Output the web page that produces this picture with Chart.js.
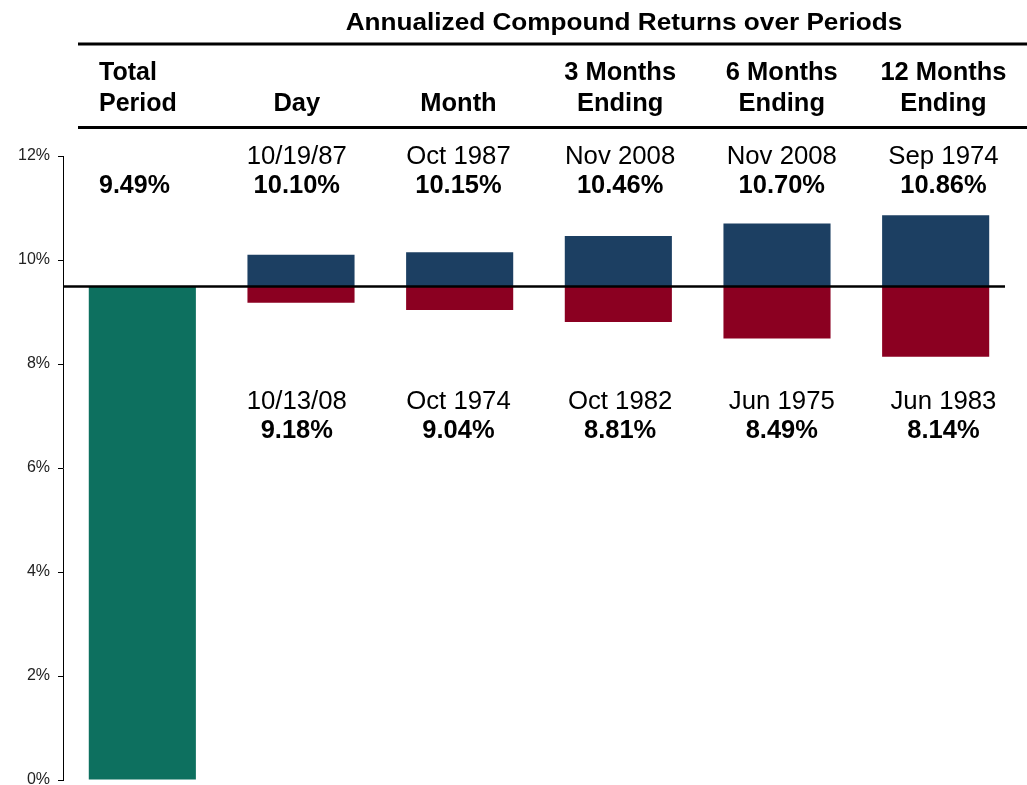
<!DOCTYPE html>
<html>
<head>
<meta charset="utf-8">
<script src="https://cdn.jsdelivr.net/npm/chart.js@4.4.0/dist/chart.umd.min.js"></script>
<style>
  html, body { margin: 0; padding: 0; background: #fff; overflow: hidden; }
  #wrap { position: relative; width: 1027px; height: 785px; }
</style>
</head>
<body>
<div id="wrap"><canvas id="returns-chart"></canvas></div>
<script>
// Annualized compound returns over periods
const chartTitle = 'Annualized Compound Returns over Periods';
const headers = [
    ['Total', 'Period'],
    ['', 'Day'],
    ['', 'Month'],
    ['3 Months', 'Ending'],
    ['6 Months', 'Ending'],
    ['12 Months', 'Ending']
];
const totalReturn = 9.49;
const highDates = ['10/19/87', 'Oct 1987', 'Nov 2008', 'Nov 2008', 'Sep 1974'];
const highReturns = [10.10, 10.15, 10.46, 10.70, 10.86];
const lowDates = ['10/13/08', 'Oct 1974', 'Oct 1982', 'Jun 1975', 'Jun 1983'];
const lowReturns = [9.18, 9.04, 8.81, 8.49, 8.14];
const yTicks = [0, 2, 4, 6, 8, 10, 12];

const FONT = '"Liberation Sans", Arial, sans-serif';
const colors = {
    total: '#0d705f',
    high: '#1c3f62',
    low: '#8b0021'
};

const labels = headers.map(h => h.join(' ').trim());
const totalData = [[0, totalReturn], null, null, null, null, null];
const highData = [null].concat(highReturns.map(v => [totalReturn, v]));
const lowData = [null].concat(lowReturns.map(v => [v, totalReturn]));

function drawText(ctx, text, x, y, sx) {
    ctx.save();
    ctx.translate(x, y);
    ctx.scale(sx || 1, 1);
    ctx.fillText(text, 0, 0);
    ctx.restore();
}

// header table, value labels and the total-period reference line
const annotations = {
    id: 'annotations',
    afterDatasetsDraw(chart) {
        const ctx = chart.ctx;
        const xs = chart.scales.x;
        const ys = chart.scales.y;
        const area = chart.chartArea;

        // reference line at total period return
        const yRef = ys.getPixelForValue(totalReturn);
        ctx.save();
        ctx.strokeStyle = '#000';
        ctx.lineWidth = 2.5;
        ctx.beginPath();
        ctx.moveTo(area.left, yRef);
        ctx.lineTo(area.right - 10, yRef);
        ctx.stroke();

        // header rules
        ctx.lineWidth = 3;
        ctx.beginPath();
        ctx.moveTo(78, 44);
        ctx.lineTo(1027, 44);
        ctx.moveTo(78, 127.5);
        ctx.lineTo(1027, 127.5);
        ctx.stroke();

        ctx.fillStyle = '#000';
        ctx.textBaseline = 'alphabetic';
        ctx.textAlign = 'center';
        ctx.font = 'bold 24px ' + FONT;
        drawText(ctx, chartTitle, 624, 29.5, 1.09);

        headers.forEach((h, i) => {
            ctx.font = 'bold 25px ' + FONT;
            if (i === 0) {
                ctx.textAlign = 'left';
                ctx.fillText(h[0], 99, 79.5);
                ctx.fillText(h[1], 99, 111);
                ctx.fillText(totalReturn.toFixed(2) + '%', 99, 193);
                return;
            }
            // text columns sit slightly right of the bar centres
            const cx = xs.getPixelForValue(i) + (i - 2.4) * 3;
            ctx.textAlign = 'center';
            if (h[0]) drawText(ctx, h[0], cx, 79.5, 1.02);
            drawText(ctx, h[1], cx, 111, 1.02);

            ctx.font = '25px ' + FONT;
            drawText(ctx, highDates[i - 1], cx, 163.5, 1.03);
            drawText(ctx, lowDates[i - 1], cx, 408.5, 1.03);
            ctx.font = 'bold 25px ' + FONT;
            drawText(ctx, highReturns[i - 1].toFixed(2) + '%', cx, 192.5, 1.02);
            drawText(ctx, lowReturns[i - 1].toFixed(2) + '%', cx, 437.5, 1.02);
        });
        ctx.restore();
    }
};

const barStyle = { grouped: false, borderWidth: 0, categoryPercentage: 0.675, barPercentage: 1 };

new Chart(document.getElementById('returns-chart'), {
    type: 'bar',
    data: {
        labels: labels,
        datasets: [
            Object.assign({ label: 'Total Period', data: totalData, backgroundColor: colors.total }, barStyle),
            Object.assign({ label: 'Highest', data: highData, backgroundColor: colors.high }, barStyle),
            Object.assign({ label: 'Lowest', data: lowData, backgroundColor: colors.low }, barStyle)
        ]
    },
    options: {
        responsive: true,
        maintainAspectRatio: false,
        animation: false,
        layout: { padding: { top: 156, right: 12, bottom: 5, left: 0 } },
        plugins: {
            legend: { display: false },
            tooltip: { enabled: false }
        },
        scales: {
            x: { display: false },
            y: {
                min: 0,
                max: 12,
                afterBuildTicks: scale => { scale.ticks = yTicks.map(v => ({ value: v })); },
                afterFit: scale => {
                    scale.width = 63;
                    scale.paddingTop = 0;
                    scale.paddingBottom = 0;
                },
                ticks: {
                    padding: 8,
                    color: '#222',
                    font: { family: FONT, size: 16 },
                    callback: v => v + '%'
                },
                grid: {
                    drawOnChartArea: false,
                    drawTicks: true,
                    tickLength: 5,
                    color: '#000'
                },
                border: { display: true, color: '#000', width: 1 }
            }
        }
    },
    plugins: [annotations]
});
</script>
</body>
</html>
